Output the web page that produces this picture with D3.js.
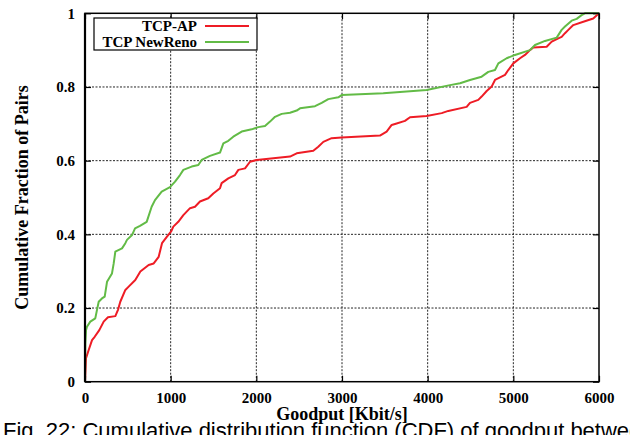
<!DOCTYPE html>
<html>
<head>
<meta charset="utf-8">
<script src="https://cdn.jsdelivr.net/npm/d3@7"></script>
<style>
  html, body { margin: 0; padding: 0; background: #fff; }
  svg { display: block; }
</style>
</head>
<body>
<svg id="chart" width="630" height="435"></svg>
<script>
// Goodput (Kbit/s) and cumulative fraction for each protocol
const apGoodput = [0,12,43,82,113,167,218,268,354,385,412,471,510,587,646,743,802,860,899,957,1008,1031,1089,1148,1226,1284,1342,1439,1498,1576,1595,1673,1751,1790,1868,1926,2004,2393,2471,2665,2723,2782,2879,2996,3443,3521,3580,3638,3735,3794,3988,4164,4241,4455,4494,4591,4630,4689,4747,4786,4903,4941,5000,5078,5136,5194,5233,5389,5448,5525,5564,5603,5642,5700,5817,5933,6000];
const apFraction = [0,0.064,0.086,0.113,0.122,0.14,0.163,0.175,0.178,0.195,0.217,0.249,0.258,0.276,0.299,0.317,0.321,0.339,0.376,0.394,0.409,0.421,0.434,0.452,0.471,0.475,0.489,0.498,0.511,0.525,0.539,0.552,0.561,0.575,0.579,0.597,0.602,0.611,0.62,0.627,0.638,0.651,0.661,0.663,0.668,0.679,0.697,0.701,0.708,0.718,0.721,0.729,0.735,0.746,0.757,0.765,0.774,0.789,0.801,0.819,0.833,0.846,0.864,0.878,0.887,0.9,0.907,0.909,0.923,0.932,0.936,0.946,0.955,0.968,0.977,0.986,1.0];

const nrGoodput = [0,4,12,23,62,120,140,160,198,230,257,315,335,354,432,471,490,549,584,642,720,778,817,895,992,1051,1109,1148,1245,1323,1362,1459,1576,1615,1673,1731,1829,1946,2023,2101,2160,2218,2296,2393,2471,2510,2685,2763,2840,2957,2996,3482,3988,4261,4378,4494,4630,4708,4786,4825,4922,5019,5194,5253,5370,5506,5564,5603,5681,5739,5797,5836,6000];
const nrFraction = [0,0.104,0.14,0.149,0.163,0.172,0.195,0.217,0.226,0.231,0.271,0.294,0.321,0.353,0.362,0.376,0.385,0.398,0.416,0.423,0.434,0.475,0.493,0.516,0.528,0.543,0.561,0.575,0.584,0.588,0.602,0.613,0.622,0.647,0.654,0.665,0.679,0.685,0.691,0.694,0.706,0.719,0.727,0.73,0.736,0.742,0.748,0.757,0.767,0.772,0.778,0.783,0.792,0.805,0.81,0.819,0.828,0.841,0.846,0.864,0.878,0.887,0.9,0.914,0.925,0.934,0.955,0.964,0.98,0.985,0.995,1.0,1.0];

const seriesNames = ["TCP-AP", "TCP NewReno"];
const seriesColors = ["#ee1c25", "#62bb46"];
const xTickValues = [0,1000,2000,3000,4000,5000,6000];
const yTickValues = [0,0.2,0.4,0.6,0.8,1];
const xTitle = "Goodput [Kbit/s]";
const yTitle = "Cumulative Fraction of Pairs";
const caption = "Fig. 22: Cumulative distribution function (CDF) of goodput between";

const svg = d3.select("#chart");
const margin = {left: 85, right: 31, top: 13.3, bottom: 53.3};
const W = 630, H = 435;
const pw = W - margin.left - margin.right;
const ph = H - margin.top - margin.bottom;

const x = d3.scaleLinear().domain([0, 6000]).range([margin.left, margin.left + pw]);
const y = d3.scaleLinear().domain([0, 1]).range([margin.top + ph, margin.top]);

const serif = "'Liberation Serif', 'Times New Roman', serif";

// grid
const grid = svg.append("g").attr("stroke", "#000").attr("stroke-width", 1)
  .attr("stroke-dasharray", "2,1.5").attr("opacity", 0.85);
grid.selectAll("line.v").data(xTickValues.slice(1, -1)).join("line")
  .attr("x1", d => x(d)).attr("x2", d => x(d))
  .attr("y1", y(0)).attr("y2", y(1));
grid.selectAll("line.h").data(yTickValues.slice(1, -1)).join("line")
  .attr("x1", x(0)).attr("x2", x(6000))
  .attr("y1", d => y(d)).attr("y2", d => y(d));

// axes with inward ticks
const tickLen = 6;
const fmtY = d => d === 0 ? "0" : d === 1 ? "1" : d3.format(".1f")(d);
const axL = svg.append("g").attr("transform", `translate(${x(0)},0)`)
  .call(d3.axisLeft(y).tickValues(yTickValues).tickSizeInner(-tickLen).tickSizeOuter(0).tickPadding(10).tickFormat(fmtY));
const axB = svg.append("g").attr("transform", `translate(0,${y(0)})`)
  .call(d3.axisBottom(x).tickValues(xTickValues).tickSizeInner(-tickLen).tickSizeOuter(0).tickPadding(11).tickFormat(d3.format("d")));
const axR = svg.append("g").attr("transform", `translate(${x(6000)},0)`)
  .call(d3.axisRight(y).tickValues(yTickValues).tickSizeInner(-tickLen).tickSizeOuter(0).tickFormat(""));
const axT = svg.append("g").attr("transform", `translate(0,${y(1)})`)
  .call(d3.axisTop(x).tickValues(xTickValues).tickSizeInner(-tickLen).tickSizeOuter(0).tickFormat(""));
[axL, axB, axR, axT].forEach(a => {
  a.select(".domain").remove();
  a.selectAll(".tick line").attr("stroke", "#000").attr("stroke-width", 1.2);
  a.selectAll("text").attr("font-family", serif).attr("font-weight", "bold")
    .attr("font-size", 15).attr("fill", "#000");
});

// series lines
const line = d3.line().x(d => x(d[0])).y(d => y(d[1]));
const series = [
  d3.zip(apGoodput, apFraction),
  d3.zip(nrGoodput, nrFraction)
];
svg.append("g").selectAll("path").data(series).join("path")
  .attr("d", line)
  .attr("fill", "none")
  .attr("stroke", (d, i) => seriesColors[i])
  .attr("stroke-width", 2)
  .attr("stroke-linejoin", "round");

// plot frame
svg.append("rect")
  .attr("x", x(0)).attr("y", y(1))
  .attr("width", x(6000) - x(0)).attr("height", y(0) - y(1))
  .attr("fill", "none").attr("stroke", "#000").attr("stroke-width", 1.5);
svg.append("line").attr("x1", x(0)).attr("x2", x(0)).attr("y1", y(0)).attr("y2", y(1))
  .attr("stroke", "#000").attr("stroke-width", 2.2);

// legend
const lg = svg.append("g");
lg.append("rect").attr("x", 94).attr("y", 18).attr("width", 163).attr("height", 32)
  .attr("fill", "#fff").attr("stroke", "#000").attr("stroke-width", 1.2);
seriesNames.forEach((name, i) => {
  const cy = 26 + i * 16;
  lg.append("text").attr("x", 197).attr("y", cy).attr("dy", "0.35em")
    .attr("text-anchor", "end").attr("font-family", serif).attr("font-size", 15)
    .attr("font-weight", "bold").attr("fill", "#000").text(name);
  lg.append("line").attr("x1", 205).attr("x2", 249).attr("y1", cy).attr("y2", cy)
    .attr("stroke", seriesColors[i]).attr("stroke-width", 2);
});

// axis titles
svg.append("text")
  .attr("transform", `translate(28,${(y(0) + y(1)) / 2}) rotate(-90)`)
  .attr("text-anchor", "middle")
  .attr("font-family", serif).attr("font-weight", "bold").attr("font-size", 18)
  .attr("fill", "#000").text(yTitle);
svg.append("text")
  .attr("x", (x(0) + x(6000)) / 2).attr("y", 420)
  .attr("text-anchor", "middle")
  .attr("font-family", serif).attr("font-weight", "bold").attr("font-size", 18)
  .attr("fill", "#000").text(xTitle);

// figure caption, running off the bottom and right edges
svg.append("text")
  .attr("x", 3).attr("y", 438)
  .attr("font-family", "'Liberation Sans', Arial, sans-serif").attr("font-size", 22)
  .attr("fill", "#000").text(caption);
</script>
</body>
</html>
